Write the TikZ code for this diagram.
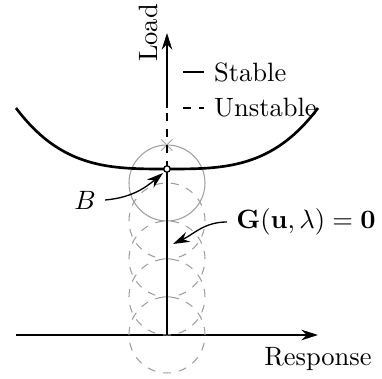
\documentclass[tikz,border=0pt]{standalone}
\usepackage{amsmath,amssymb}
\usepackage{tikz}
\usetikzlibrary{arrows.meta, positioning}

\begin{document}
\begin{tikzpicture}[
  x=0.377pt, y=0.377pt,
  axis/.style={line width=0.5pt, -{Stealth[length=2.2mm, width=1.4mm]}},
  branch/.style={line width=1pt},
  ball/.style={gray!75, line width=0.4pt},
  arr/.style={line width=0.5pt, -{Stealth[length=2.2mm, width=1.4mm]}}]
\useasboundingbox (-167,-44) rectangle (215,335);
% axes
\coordinate (O) at (0,0);
\coordinate (xl) at (-151,0);
\coordinate (xr) at (151,0);
\coordinate (top) at (0,302);
\coordinate (B) at (0,166);
\coordinate (dend) at (0,227);
\draw[axis] (xl) -- (xr) node[below=1pt] (resp) {Response};
\draw[axis] (dend) -- (top) node[rotate=90, anchor=south] (load) {Load};
% predictor circles
\foreach \k in {0,1,2,3}
  \draw[ball, dashed] (0,38*\k) circle (38);
\draw[ball] (0,152) circle (38);
\node[gray!75, inner sep=0pt, font=\small] (cross) at (0,189) {$\times$};
% branches
\draw[branch] plot[domain=-151:151, samples=101]
  (\x, {166+61*(0.7*abs(\x/151)^3+0.3*abs(\x/151)^4)});
\draw[branch] (O) -- (B);
\draw[branch, dashed] (B) -- (dend);
\draw[fill=white, line width=0.5pt] (B) circle (3.2);
% legend
\coordinate (s1) at (16,263);
\coordinate (s2) at (37,263);
\coordinate (u1) at (16,227);
\coordinate (u2) at (37,227);
\draw[branch] (s1) -- (s2) node[right] (stab) {Stable};
\draw[branch, dashed] (u1) -- (u2) node[right] (unst) {Unstable};
% labels
\node (blab) at (-82,135) {$B$};
\node (glab) at (139,113) {$\mathbf{G}(\mathbf{u},\lambda)=\mathbf{0}$};
\draw[arr] (blab.east) to[out=5, in=220] ([shift={(-4,-4)}]B);
\draw[arr] (glab.west) to[out=180, in=25] (6,91);
\end{tikzpicture}
\end{document}
